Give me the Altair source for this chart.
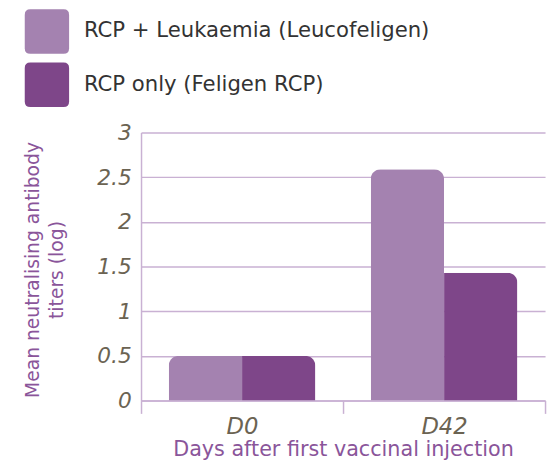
import altair as alt
import pandas as pd

days = ["D0", "D0", "D42", "D42"]
series = ["RCP + Leukaemia (Leucofeligen)", "RCP only (Feligen RCP)",
          "RCP + Leukaemia (Leucofeligen)", "RCP only (Feligen RCP)"]
values = [0.5, 0.5, 2.59, 1.43]

series_order = ["RCP + Leukaemia (Leucofeligen)", "RCP only (Feligen RCP)"]
colors = ["#a482b0", "#7e4689"]
y_ticks = [0, 0.5, 1, 1.5, 2, 2.5, 3]

df = pd.DataFrame({"day": days, "series": series, "value": values})

LIGHT = series_order[0]
grid_col = "#c9b1d3"
txt_col = "#6b6352"
title_col = "#8a559a"
FONT = "DejaVu Sans"

swatch = "M-0.75,-1 H0.75 Q1,-1 1,-0.75 V0.75 Q1,1 0.75,1 H-0.75 Q-1,1 -1,0.75 V-0.75 Q-1,-1 -0.75,-1 Z"

chart = alt.Chart(df).mark_bar(
    cornerRadiusTopLeft=alt.expr(f"datum.series == '{LIGHT}' ? 10 : 0"),
    cornerRadiusTopRight=alt.expr(f"(datum.series != '{LIGHT}' || datum.day == 'D42') ? 10 : 0"),
).encode(
    x=alt.X("day:N", sort=["D0", "D42"],
            scale=alt.Scale(paddingInner=0, paddingOuter=0),
            axis=alt.Axis(title="Days after first vaccinal injection", labelAngle=0,
                          labelFont=FONT, labelFontSize=23, labelFontStyle="italic",
                          labelColor=txt_col, labelPadding=2,
                          tickBand="extent", tickSize=13, tickColor=grid_col, tickWidth=1.5,
                          domainColor=grid_col, domainWidth=1.5,
                          titleFont=FONT, titleFontSize=21, titleFontWeight="normal",
                          titleColor=title_col, titleBaseline="alphabetic", titleY=56)),
    xOffset=alt.XOffset("series:N", sort=series_order,
                        scale=alt.Scale(paddingInner=0, paddingOuter=0.3775)),
    y=alt.Y("value:Q", scale=alt.Scale(domain=[0, 3], nice=False),
            axis=alt.Axis(title=["Mean neutralising antibody", "titers (log)"],
                          values=y_ticks, format="~g", ticks=False,
                          labelFont=FONT, labelFontSize=22, labelFontStyle="italic",
                          labelColor=txt_col, labelPadding=10,
                          gridColor=grid_col, gridWidth=1.5,
                          domainColor=grid_col, domainWidth=1.5,
                          titleFont=FONT, titleFontSize=19, titleFontWeight="normal",
                          titleColor=title_col, titleLineHeight=24,
                          titleX=-100, titleY=139, titleAnchor="middle",
                          titleBaseline="bottom", titleAngle=270)),
    color=alt.Color("series:N", sort=series_order,
                    scale=alt.Scale(domain=series_order, range=colors),
                    legend=alt.Legend(title=None, orient="none", legendX=-118, legendY=-125,
                                      symbolType=swatch, symbolSize=2025,
                                      symbolStrokeWidth=0, symbolOpacity=1,
                                      labelFont=FONT, labelFontSize=21.5, labelColor="#333333",
                                      labelOffset=15, rowPadding=9, padding=0,
                                      labelLimit=500)),
).properties(
    width=410, height=272,
    autosize=alt.AutoSizeParams(type="none"),
    padding={"left": 135, "top": 123, "right": 3, "bottom": 62},
).configure_view(strokeWidth=0)

chart.save("out.html", embed_options={"renderer": "svg", "actions": False})
